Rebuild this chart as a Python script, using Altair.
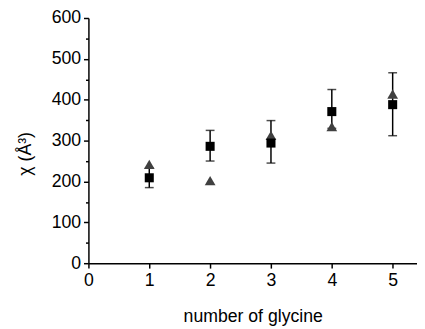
import altair as alt
import pandas as pd

glycine = [1, 2, 3, 4, 5]
chi_sq = [209, 286, 294, 371, 388]
err_lo = [185, 250, 245, 330, 312]
err_hi = [233, 325, 349, 425, 466]
chi_tri = [242, 202, 313, 334, 414]
minor_ticks = [50, 150, 250, 350, 450, 550]

sq = pd.DataFrame({"x": glycine, "y": chi_sq, "lo": err_lo, "hi": err_hi})
tri = pd.DataFrame({"x": glycine, "y": chi_tri})

xscale = alt.Scale(domain=[0, 5.4], nice=False, zero=False)
yscale = alt.Scale(domain=[0, 600], nice=False)

xaxis = alt.Axis(title="number of glycine", values=[0, 1, 2, 3, 4, 5], format="d",
                 grid=False, domainColor="black", domainWidth=1.5, tickColor="black",
                 tickWidth=1.5, tickSize=5, labelFontSize=18, titleFontSize=18,
                 labelFont="Liberation Sans", titleFont="Liberation Sans",
                 titleFontWeight="normal", labelColor="black", titleColor="black",
                 labelPadding=4, titlePadding=18, labelFlush=False)
yaxis = alt.Axis(title="χ (Å³)", values=[0, 100, 200, 300, 400, 500, 600], grid=False,
                 domainColor="black", domainWidth=1.5, tickColor="black", tickWidth=1.5,
                 tickSize=5, labelFontSize=18, titleFontSize=18,
                 labelFont="Liberation Sans", titleFont="Liberation Sans",
                 titleFontWeight="normal", labelColor="black", titleColor="black",
                 labelPadding=3, labelFlush=False, orient="left",
                 titleX=-64, titleY=138, titleAlign="center", titleBaseline="middle",
                 titleAngle=270)
yminor = alt.Axis(title=None, values=minor_ticks, labels=False, orient="left",
                  domain=False, grid=False, tickColor="black", tickWidth=1.5, tickSize=3)

base = alt.Chart(sq)
rules = base.mark_rule(color="black", strokeWidth=1.5).encode(
    x=alt.X("x:Q", scale=xscale, axis=xaxis),
    y=alt.Y("lo:Q", scale=yscale, axis=yaxis),
    y2="hi:Q",
)
minor = base.mark_rule(opacity=0).encode(
    x=alt.X("x:Q", scale=xscale),
    y=alt.Y("lo:Q", scale=yscale, axis=yminor),
)
cap_lo = base.mark_tick(orient="horizontal", size=9, thickness=1.5, color="black").encode(
    x=alt.X("x:Q", scale=xscale), y=alt.Y("lo:Q", scale=yscale, axis=None))
cap_hi = base.mark_tick(orient="horizontal", size=9, thickness=1.5, color="black").encode(
    x=alt.X("x:Q", scale=xscale), y=alt.Y("hi:Q", scale=yscale, axis=None))
squares = base.mark_square(size=85, color="black", opacity=1).encode(
    x=alt.X("x:Q", scale=xscale), y=alt.Y("y:Q", scale=yscale, axis=None))
triangles = alt.Chart(tri).mark_point(shape="triangle-up", size=120, filled=True,
                                      color="#404040", opacity=1).encode(
    x=alt.X("x:Q", scale=xscale), y=alt.Y("y:Q", scale=yscale, axis=None))

chart = alt.layer(rules, minor, cap_lo, cap_hi, triangles, squares).resolve_axis(
    y="independent"
).properties(
    width=335, height=250,
    autosize=alt.AutoSizeParams(type="none"),
    padding={"left": 82, "top": 7, "right": 0, "bottom": 70},
    background="white",
).configure_view(stroke=None)

chart.save("out.html", embed_options={"renderer": "svg", "actions": False})
